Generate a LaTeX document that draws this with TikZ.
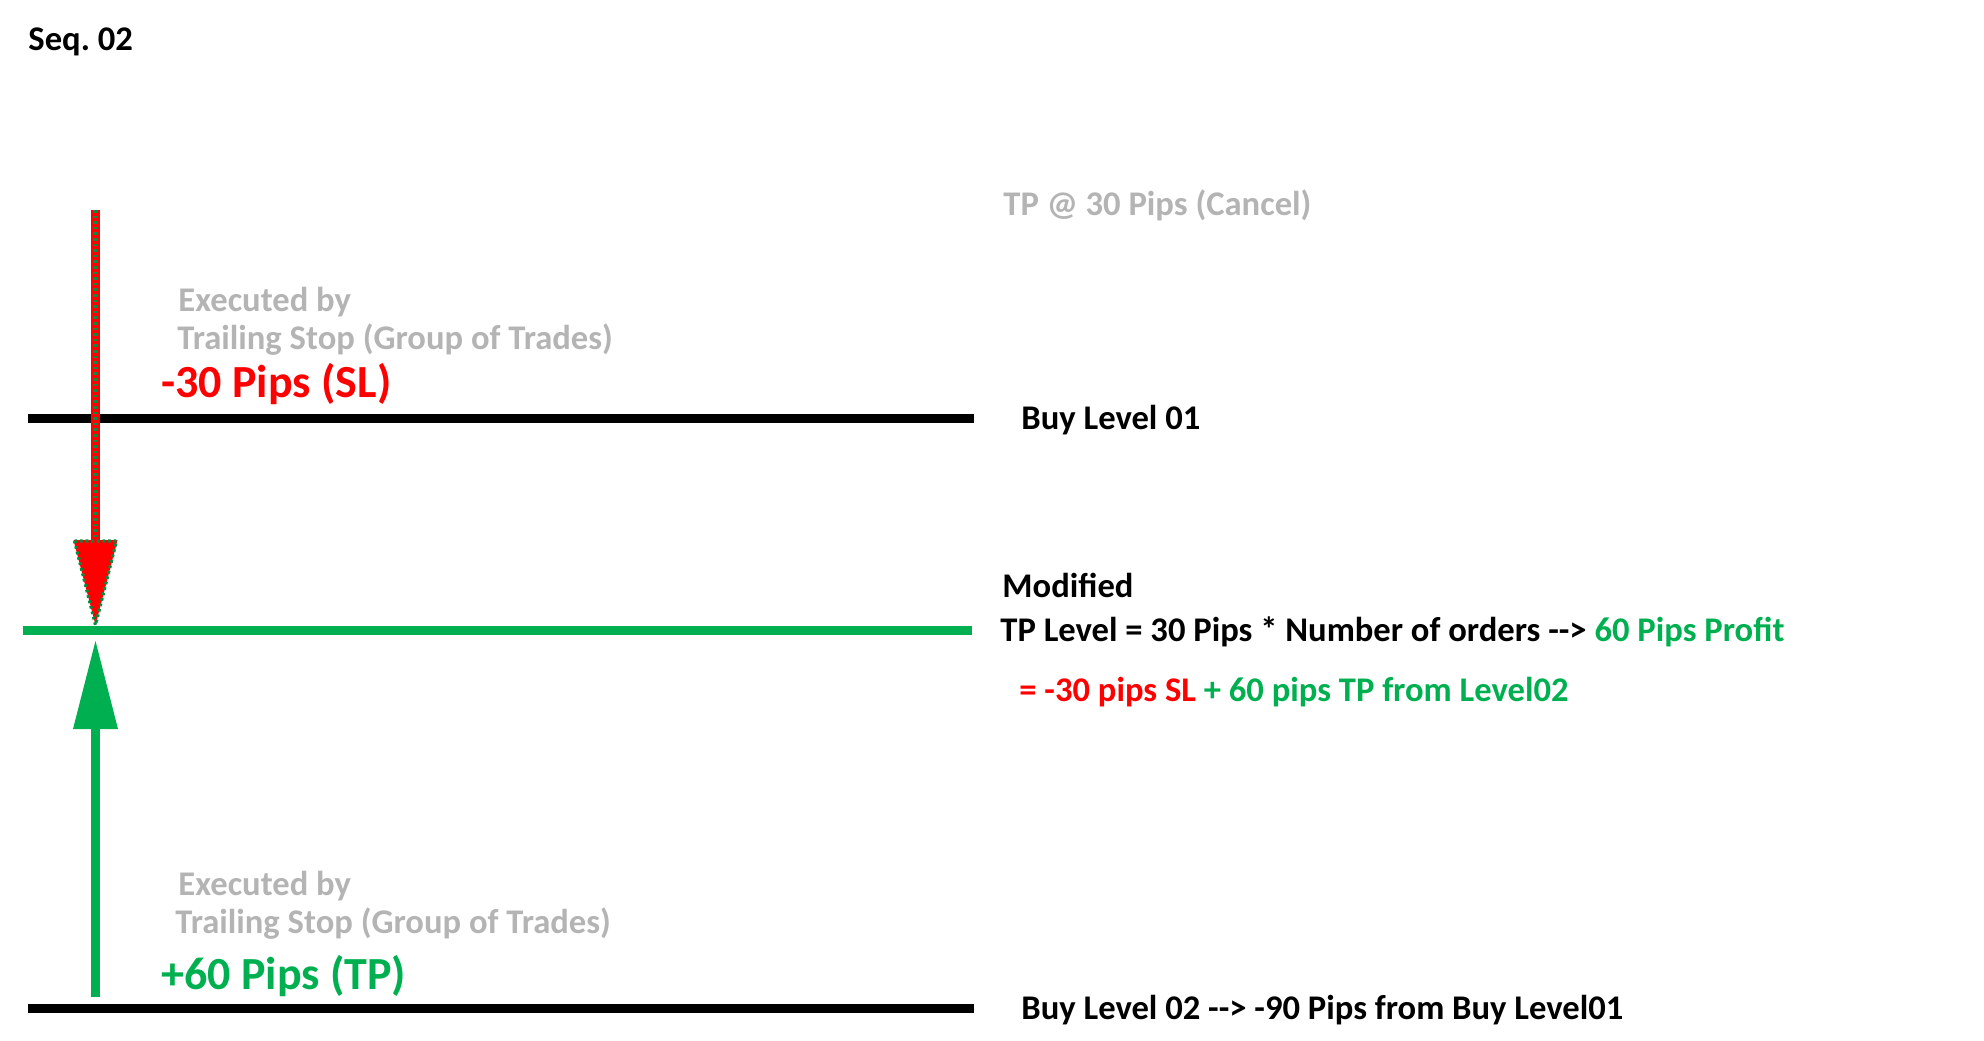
\documentclass[tikz,border=0pt]{standalone}
\usepackage{fontspec}
\setmainfont{Carlito}
\usepackage{tikz}
\usetikzlibrary{arrows.meta,calc}

\definecolor{slred}{RGB}{255,0,0}
\definecolor{tpgreen}{RGB}{0,176,80}
\definecolor{notegray}{RGB}{180,180,180}
\frenchspacing

\begin{document}
\begin{tikzpicture}[
        x=0.5pt,
        y=-0.5pt,
        font=\bfseries\fontsize{17.3}{20}\selectfont,
        txt/.style={anchor=base west, inner sep=0pt},
        big/.style={txt, font=\bfseries\fontsize{23}{27}\selectfont},
        note/.style={txt, text=notegray},
        level/.style={line width=4.5pt},
        slarrow/.style={slred, line width=4.5pt, -{Triangle[length=42.5pt, width=22pt, line width=0pt]}},
        sldots/.style={tpgreen!80!black, line width=2.6pt, dash pattern=on 1.3pt off 1.5pt},
        headdots/.style={tpgreen!80!black, line width=1.6pt, dash pattern=on 1.3pt off 1.5pt},
        tparrow/.style={tpgreen, line width=4.5pt, -{Triangle[length=44pt, width=22.5pt, line width=0pt]}}
    ]
        \useasboundingbox (0,0) rectangle (1984,1040);

        % Levels
        \coordinate (buyOneL) at (28,418);
        \coordinate (buyOneR) at (974,418);
        \coordinate (tpL) at (23,630);
        \coordinate (tpR) at (972,630);
        \coordinate (buyTwoL) at (28,1008);
        \coordinate (buyTwoR) at (974,1008);
        \draw[level] (buyOneL) -- (buyOneR);
        \draw[level, tpgreen] (tpL) -- (tpR);
        \draw[level] (buyTwoL) -- (buyTwoR);

        % Moves onto the modified TP level
        \coordinate (slTop) at (95.5,210);
        \coordinate (slTip) at (95.5,625);
        \coordinate (tpBottom) at (95.5,997);
        \coordinate (tpTip) at (95.5,641);
        \draw[slarrow] (slTop) -- (slTip);
        \draw[sldots] (slTop) -- ($(slTip)+(0,-85)$);
        \draw[headdots] ($(slTip)+(-21,-84)$) -- ($(slTip)+(21,-84)$) -- (slTip) -- cycle;
        \draw[tparrow] (tpBottom) -- (tpTip);

        % Labels
        \node[txt] (seq) at (28,50) {Seq. 02};
        \node[note] (cancel) at (1003,215) {TP @ 30 Pips (Cancel)};
        \node[note] (execOne) at (178,311) {Executed by};
        \node[note] (trailOne) at (177,349) {Trailing Stop (Group of Trades)};
        \node[big, text=slred] (slText) at (161,397) {-30 Pips (SL)};
        \node[txt] (buyOne) at (1021,429) {Buy Level 01};
        \node[txt] (modified) at (1002,597) {Modified};
        \node[txt] (tpLevel) at (1000,641)
            {TP Level = 30 Pips * Number of orders -\kern0pt-> \textcolor{tpgreen}{60 Pips Profit}};
        \node[txt] (sum) at (1019,701)
            {\textcolor{slred}{= -30 pips SL} \textcolor{tpgreen}{+ 60 pips TP from Level02}};
        \node[note] (execTwo) at (178,895) {Executed by};
        \node[note] (trailTwo) at (175,933) {Trailing Stop (Group of Trades)};
        \node[big, text=tpgreen] (tpText) at (161,989) {+60 Pips (TP)};
        \node[txt] (buyTwo) at (1021,1019) {Buy Level 02 -\kern0pt-> -90 Pips from Buy Level01};
    \end{tikzpicture}
\end{document}
